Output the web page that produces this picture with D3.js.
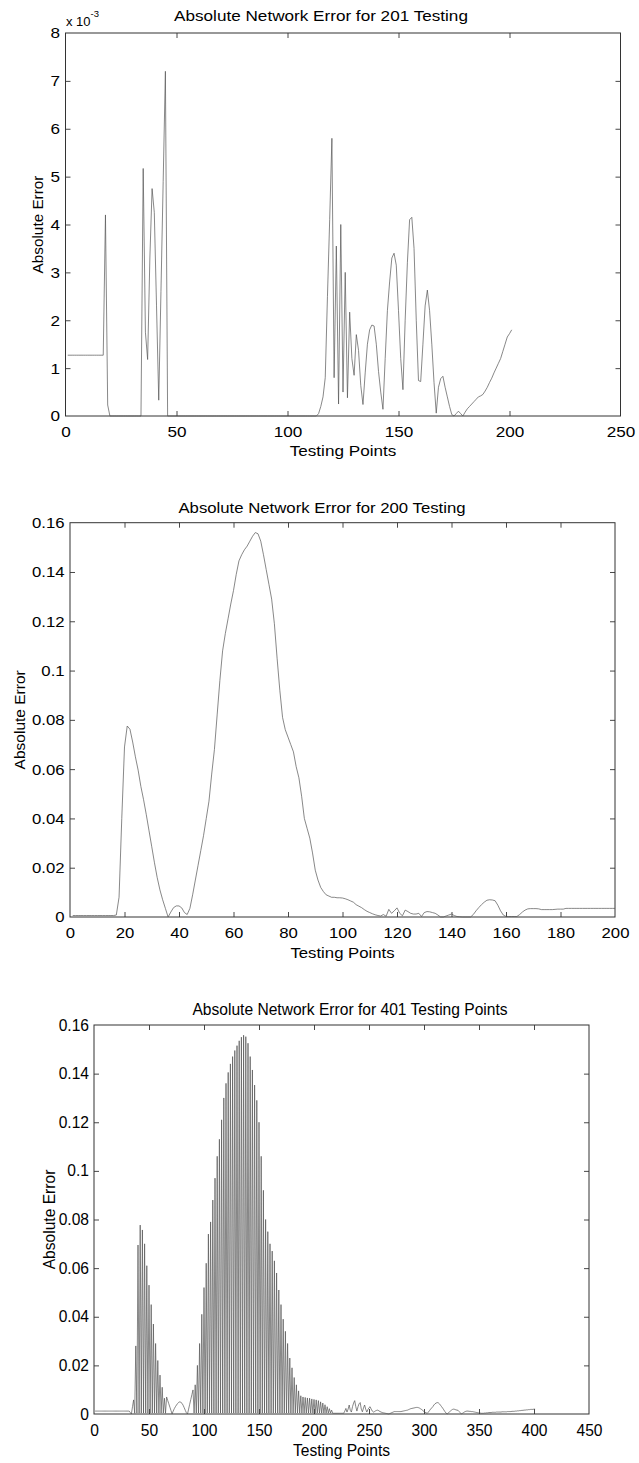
<!DOCTYPE html>
<html>
<head>
<meta charset="utf-8">
<script src="https://cdn.jsdelivr.net/npm/d3@7"></script>
<style>
  body { margin: 0; background: #fff; }
  svg text { font-family: "Liberation Sans", Arial, Helvetica, sans-serif; fill: #000; }
</style>
</head>
<body>
<div id="chart-area"></div>
<script>
// absolute error, 201 testing points (units of 1e-3), x = 1..201
var err201 = [
  1.27,1.27,1.27,1.27,1.27,1.27,1.27,1.27,1.27,1.27,
  1.27,1.27,1.27,1.27,1.27,1.27,1.27,4.2,0.23,0,
  0,0,0,0,0,0,0,0,0,0,
  0,0,0,0,5.17,1.75,1.18,3.3,4.75,4.25,
  2.3,0.33,2.6,4.9,7.2,0,0,0,0,0,
  0,0,0,0,0,0,0,0,0,0,
  0,0,0,0,0,0,0,0,0,0,
  0,0,0,0,0,0,0,0,0,0,
  0,0,0,0,0,0,0,0,0,0,
  0,0,0,0,0,0,0,0,0,0,
  0,0,0,0,0,0,0,0,0,0,
  0,0,0,0.05,0.2,0.4,0.8,2.5,4.1,5.8,
  0.8,3.55,0.25,4.0,0.5,3.0,0.38,2.17,1.2,0.85,
  1.7,1.37,0.64,0.24,0.9,1.5,1.8,1.9,1.88,1.5,
  0.93,0.5,0.14,1.2,2.2,2.8,3.3,3.4,3.15,2.2,
  1.2,0.55,2.0,3.2,4.1,4.15,3.5,2.0,0.74,0.72,
  1.5,2.3,2.63,2.2,1.5,0.7,0.06,0.6,0.78,0.83,
  0.6,0.4,0.2,0.03,0,0.05,0.1,0.05,0,0.08,
  0.15,0.2,0.25,0.3,0.35,0.4,0.42,0.45,0.52,0.6,
  0.7,0.79,0.9,1.0,1.1,1.2,1.35,1.5,1.65,1.72,
  1.8
];

// absolute error, 200 testing points, x = 1..200
var err200 = [
  0.0006,0.0006,0.0006,0.0006,0.0006,0.0006,0.0006,0.0006,0.0006,0.0006,
  0.0006,0.0006,0.0006,0.0006,0.0006,0.0006,0.0008,0.008,0.04,0.069,
  0.0775,0.0762,0.071,0.065,0.0596,0.053,0.0476,0.0415,0.035,0.0285,
  0.022,0.016,0.011,0.007,0.0035,0,0.002,0.0038,0.0045,0.0045,
  0.0037,0.0018,0.001,0.0035,0.009,0.015,0.021,0.027,0.033,0.04,
  0.047,0.058,0.068,0.082,0.096,0.108,0.115,0.121,0.127,0.1325,
  0.139,0.1445,0.147,0.149,0.1505,0.1525,0.1545,0.156,0.1555,0.1525,
  0.147,0.141,0.135,0.129,0.119,0.105,0.092,0.081,0.076,0.073,
  0.07,0.067,0.061,0.0565,0.049,0.04,0.036,0.032,0.026,0.019,
  0.015,0.012,0.0103,0.009,0.0085,0.008,0.008,0.0078,0.0078,0.0077,
  0.0074,0.007,0.0065,0.006,0.005,0.0044,0.0038,0.003,0.0023,0.0018,
  0.0013,0.0009,0.0006,0.0004,0.001,0.0003,0.0031,0.0015,0.0025,0.0037,
  0.0015,0.0005,0.0028,0.0022,0.0015,0.0012,0.0012,0.0015,0.0002,0.0018,
  0.0022,0.0021,0.0018,0.0015,0.0008,0,0,0.0004,0.0008,0.0012,
  0.0006,0.0002,0.0001,0,0,0,0,0.001,0.0025,0.0038,
  0.005,0.006,0.0068,0.007,0.0069,0.0066,0.0048,0.0025,0.0008,0.0002,
  0.0002,0.0002,0.0002,0.0002,0.001,0.002,0.0028,0.0033,0.0034,0.0034,
  0.0034,0.0033,0.003,0.003,0.003,0.003,0.003,0.0031,0.0032,0.0032,
  0.0032,0.0035,0.0035,0.0035,0.0035,0.0035,0.0035,0.0035,0.0035,0.0035,
  0.0035,0.0035,0.0035,0.0035,0.0035,0.0035,0.0035,0.0035,0.0035,0.0035
];

// absolute error, 401 testing points, x = 1..401
var err401 = [
  0.0012,0.0012,0.0012,0.0012,0.0012,0.0012,0.0012,0.0012,0.0012,0.0012,
  0.0012,0.0012,0.0012,0.0012,0.0012,0.0012,0.0012,0.0012,0.0012,0.0012,
  0.0012,0.0012,0.0012,0.0012,0.0012,0.0012,0.0012,0.0012,0.0012,0.0012,
  0.0012,0.0012,0.0006,0,0.003,0.0058,0.0003,0.028,0.0004,0.0695,
  0.0004,0.0777,0.0004,0.0757,0.0004,0.070,0.0004,0.061,0.0004,0.053,
  0.0004,0.045,0.0004,0.037,0.0004,0.029,0.0004,0.022,0.0004,0.016,
  0.0004,0.011,0.0004,0.0065,0.0003,0.007,0.0056,0.0042,0.0028,0.0014,
  0,0.0012,0.0022,0.003,0.0037,0.0043,0.0048,0.005,0.0048,0.0044,
  0.0036,0.0026,0.0015,0.0005,0,0.002,0.004,0.006,0.008,0.0099,
  0.0004,0.012,0.0004,0.020,0.0004,0.029,0.0004,0.041,0.0004,0.052,
  0.0004,0.062,0.0004,0.074,0.0004,0.079,0.0004,0.088,0.0004,0.097,
  0.0004,0.106,0.0004,0.113,0.0004,0.121,0.0004,0.130,0.0004,0.136,
  0.0004,0.1405,0.0004,0.144,0.0004,0.147,0.0004,0.1495,0.0004,0.1515,
  0.0004,0.1535,0.0004,0.155,0.0004,0.1558,0.0004,0.1552,0.0004,0.1525,
  0.0004,0.147,0.0004,0.1415,0.0004,0.1353,0.0004,0.129,0.0004,0.120,
  0.0004,0.106,0.0004,0.092,0.0004,0.080,0.0004,0.075,0.0004,0.070,
  0.0004,0.067,0.0004,0.063,0.0004,0.058,0.0004,0.051,0.0004,0.045,
  0.0004,0.039,0.0004,0.034,0.0004,0.029,0.0004,0.023,0.0004,0.019,
  0.0004,0.015,0.0004,0.012,0.0004,0.0095,0.0004,0.0075,0.0004,0.007,
  0.0004,0.0068,0.0004,0.0066,0.0004,0.0065,0.0004,0.0062,0.0004,0.006,
  0.0004,0.0058,0.0004,0.0055,0.0004,0.005,0.0004,0.0045,0.0004,0.0038,
  0.0004,0.003,0.0004,0.0022,0.0004,0.0016,0.0003,0.0003,0.0003,0.0003,
  0.0003,0.0003,0.0003,0.0003,0.0003,0.0003,0.0003,0.0012,0.0023,0.0008,
  0.002,0.0037,0.0015,0.0008,0.003,0.0045,0.0055,0.003,0.0012,0.003,
  0.0042,0.0047,0.002,0.0009,0.0025,0.0037,0.002,0.0008,0.0018,0.0026,
  0.003,0.002,0.0012,0.0008,0.001,0.0013,0.0015,0.0016,0.0013,0.001,
  0.0008,0.0006,0.0005,0.0004,0.0003,0.0002,0.0001,0,0.0002,0.0004,
  0.0006,0.0008,0.001,0.001,0.001,0.001,0.001,0.001,0.001,0.0011,
  0.0012,0.0013,0.0014,0.0015,0.0016,0.0018,0.002,0.0022,0.0023,0.0024,
  0.0025,0.0026,0.0027,0.0027,0.0026,0.0024,0.0021,0.0018,0.0014,0.001,
  0.0007,0.0005,0.0003,0.0008,0.0014,0.002,0.0025,0.003,0.0037,0.0042,
  0.0045,0.0047,0.0046,0.0042,0.0036,0.003,0.0024,0.0017,0.001,0.0004,
  0,0.0004,0.0008,0.0012,0.0016,0.0019,0.002,0.0019,0.0017,0.0016,
  0.0015,0.001,0.0005,0,0.0003,0.0006,0.0009,0.0011,0.0012,0.0012,
  0.0011,0.0011,0.001,0.001,0.0009,0.0008,0.0007,0.0006,0.0005,0.0004,
  0.0004,0.0003,0.0003,0.0003,0.0004,0.0004,0.0005,0.0005,0.0006,0.0006,
  0.0006,0.0007,0.0007,0.0007,0.0007,0.0008,0.0008,0.0008,0.0008,0.0008,
  0.0009,0.0009,0.0009,0.0009,0.0009,0.001,0.001,0.001,0.001,0.0011,
  0.0011,0.0011,0.0012,0.0012,0.0013,0.0013,0.0014,0.0014,0.0015,0.0015,
  0.0016,0.0016,0.0017,0.0017,0.0018,0.0018,0.0019,0.0019,0.0019,0.002,
  0.002
];

var xTicks201 = [0, 50, 100, 150, 200, 250];
var yTicks201 = [0, 1, 2, 3, 4, 5, 6, 7, 8];
var xTicks200 = [0, 20, 40, 60, 80, 100, 120, 140, 160, 180, 200];
var yTicks200 = [0, 0.02, 0.04, 0.06, 0.08, 0.1, 0.12, 0.14, 0.16];
var xTicks401 = [0, 50, 100, 150, 200, 250, 300, 350, 400, 450];
var yTicks401 = [0, 0.02, 0.04, 0.06, 0.08, 0.1, 0.12, 0.14, 0.16];

var titles = [
  "Absolute Network Error for 201 Testing",
  "Absolute Network Error for 200 Testing",
  "Absolute Network Error for 401 Testing Points"
];
var xLabel = "Testing Points";
var yLabel = "Absolute Error";

var width = 639, height = 1463;
var svg = d3.select("#chart-area").append("svg")
    .attr("width", width)
    .attr("height", height);

var panels = [
  { data: err201, xTicks: xTicks201, yTicks: yTicks201, title: titles[0],
    left: 65.5, right: 620.5, top: 33, bottom: 416,
    font: 15.3, sx: 1.12, titleX: 321, titleY: 21, xLabY: 456, yLabX: 42.5, exponent: true },
  { data: err200, xTicks: xTicks200, yTicks: yTicks200, title: titles[1],
    left: 70, right: 615, top: 522.7, bottom: 917,
    font: 15.5, sx: 1.08, titleX: 322, titleY: 512.5, xLabY: 957.5, yLabX: 25 },
  { data: err401, xTicks: xTicks401, yTicks: yTicks401, title: titles[2],
    left: 94, right: 589, top: 1025, bottom: 1414,
    font: 15.6, sx: 1.0, titleX: 350, titleY: 1015, xLabY: 1455.5, yLabX: 55 }
];

panels.forEach(drawPanel);

function drawPanel(p) {
    var g = svg.append("g");
    var xMax = p.xTicks[p.xTicks.length - 1];
    var yMax = p.yTicks[p.yTicks.length - 1];

    var x = d3.scaleLinear().domain([0, xMax]).range([p.left, p.right]);
    var y = d3.scaleLinear().domain([0, yMax]).range([p.bottom, p.top]);
    var fmt = function(d) { return String(d); };

    g.append("g")
        .attr("class", "bottom axis")
        .attr("transform", "translate(0," + p.bottom + ")")
        .call(d3.axisBottom(x).tickValues(p.xTicks).tickSize(-5).tickPadding(10.5).tickFormat(fmt));
    g.append("g")
        .attr("class", "top axis")
        .attr("transform", "translate(0," + p.top + ")")
        .call(d3.axisTop(x).tickValues(p.xTicks).tickSize(-5).tickFormat(""));
    g.append("g")
        .attr("class", "left axis")
        .attr("transform", "translate(" + p.left + ",0)")
        .call(d3.axisLeft(y).tickValues(p.yTicks).tickSize(-5).tickPadding(5).tickFormat(fmt));
    g.append("g")
        .attr("class", "right axis")
        .attr("transform", "translate(" + p.right + ",0)")
        .call(d3.axisRight(y).tickValues(p.yTicks).tickSize(-5).tickFormat(""));

    g.selectAll(".axis .domain").remove();
    g.selectAll(".axis line").attr("stroke", "#333").attr("stroke-width", 0.9);
    g.selectAll(".axis text")
        .attr("font-size", p.font)
        .attr("transform", "scale(" + p.sx + ",1)");
    g.selectAll(".axis").attr("font-family", null).attr("font-size", null);

    // edge ticks sit on the box itself
    g.selectAll(".axis .tick line").filter(function(d) {
        return d === 0 || d === xMax || d === yMax;
    }).remove();

    g.append("rect")
        .attr("x", p.left)
        .attr("y", p.top)
        .attr("width", p.right - p.left)
        .attr("height", p.bottom - p.top)
        .attr("fill", "none")
        .attr("stroke", "#333")
        .attr("stroke-width", 1);

    var line = d3.line()
        .x(function(d, i) { return x(i + 1); })
        .y(function(d) { return y(d); });

    g.append("path")
        .datum(p.data)
        .attr("fill", "none")
        .attr("stroke", "#555")
        .attr("stroke-width", 0.7)
        .attr("d", line);

    g.append("text")
        .attr("transform", "translate(" + p.titleX + "," + p.titleY + ") scale(" + p.sx + ",1)")
        .attr("text-anchor", "middle")
        .attr("font-size", p.font)
        .text(p.title);

    g.append("text")
        .attr("transform", "translate(" + ((p.left + p.right) / 2) + "," + p.xLabY + ") scale(" + p.sx + ",1)")
        .attr("text-anchor", "middle")
        .attr("font-size", p.font)
        .text(xLabel);

    g.append("text")
        .attr("transform", "translate(" + p.yLabX + "," + ((p.top + p.bottom) / 2) + ") rotate(-90)")
        .attr("text-anchor", "middle")
        .attr("font-size", p.font)
        .text(yLabel);

    if (p.exponent) {
        var ex = g.append("text")
            .attr("x", p.left + 0.5)
            .attr("y", p.top - 7)
            .attr("font-size", 13)
            .text("x 10");
        ex.append("tspan")
            .attr("dy", -9)
            .attr("font-size", 9.5)
            .text("-3");
    }
}
</script>
</body>
</html>
